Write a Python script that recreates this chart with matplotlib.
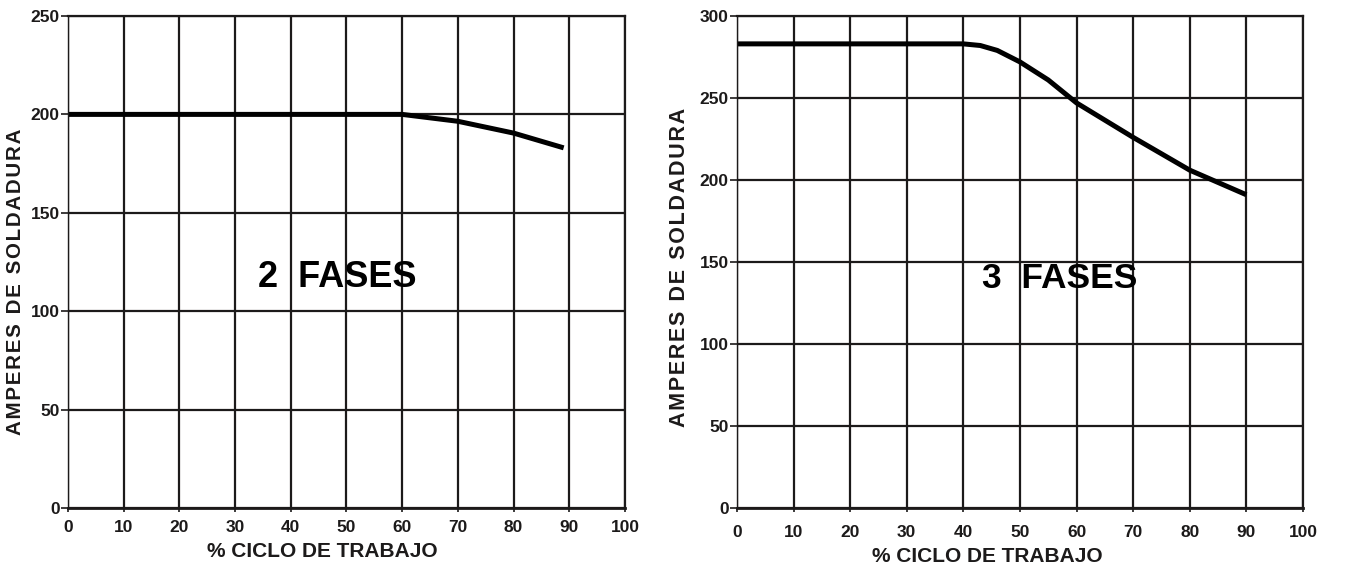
import matplotlib

matplotlib.use("Agg")
import matplotlib.pyplot as plt
import numpy as np

plt.rcParams["font.family"] = ["Liberation Sans", "DejaVu Sans"]
plt.rcParams["font.weight"] = "bold"

# * datos de las curvas de ciclo de trabajo
x_2f = [0, 10, 20, 30, 40, 50, 60, 70, 80, 89]
y_2f = [200, 200, 200, 200, 200, 200, 200, 196.5, 190.5, 183]

x_3f = [0, 10, 20, 30, 40, 43, 46, 50, 55, 60, 70, 80, 90]
y_3f = [283, 283, 283, 283, 283, 282, 279, 272, 261, 247, 226, 206, 191]

x_ticks = [0, 10, 20, 30, 40, 50, 60, 70, 80, 90, 100]
y_ticks_2f = [0, 50, 100, 150, 200, 250]
y_ticks_3f = [0, 50, 100, 150, 200, 250, 300]

ink = "#1c1a1a"
hair = "\u200a"


def spaced(text):
    # * letras separadas con espacio muy fino, palabras con espacio + fino
    return " \u2009".join(hair.join(word) for word in text.split(" "))


ylabel_txt = spaced("AMPERES DE SOLDADURA")

fig = plt.figure(figsize=(13.46, 5.65), dpi=100)
ax1 = fig.add_axes([0.0505, 0.1009, 0.4138, 0.8708])
ax2 = fig.add_axes([0.5475, 0.1009, 0.4205, 0.8708])


def style_axes(ax, y_ticks, ymax, xpad):
    ax.set_xlim(0, 100)
    ax.set_ylim(0, ymax)
    ax.set_xticks(x_ticks)
    ax.set_yticks(y_ticks)
    ax.grid(True, color=ink, linewidth=1.6)
    for side in ["top", "right"]:
        ax.spines[side].set_linewidth(1.6)
    ax.spines["left"].set_linewidth(1.0)
    ax.spines["bottom"].set_linewidth(2.0)
    for s in ax.spines.values():
        s.set_color(ink)
    ax.tick_params(axis="y", direction="out", length=5, width=1.2, colors=ink, labelsize=12.5, pad=1)
    ax.tick_params(axis="x", direction="out", length=3, width=1.2, colors=ink, labelsize=12.5, pad=xpad)
    for lbl in ax.get_xticklabels() + ax.get_yticklabels():
        lbl.set_fontweight("bold")


# * 2 fases
ax1.plot(x_2f, y_2f, color="black", linewidth=3.6, solid_capstyle="butt")
style_axes(ax1, y_ticks_2f, 250, 6)
ax1.set_xlabel("% CICLO DE TRABAJO", fontsize=15, fontweight="bold", color=ink)
ax1.xaxis.set_label_coords(0.456, -0.07)
ax1.set_ylabel(ylabel_txt, fontsize=14.8, fontweight="bold", color=ink)
ax1.yaxis.set_label_coords(-0.077, 0.46)
ax1.text(48.3, 117, "2  FASES", fontsize=26, fontweight="bold", ha="center", va="center", color="black")

# * 3 fases
ax2.plot(x_3f, y_3f, color="black", linewidth=3.6, solid_capstyle="butt")
style_axes(ax2, y_ticks_3f, 300, 9)
ax2.set_xlabel("% CICLO DE TRABAJO", fontsize=15, fontweight="bold", color=ink)
ax2.xaxis.set_label_coords(0.443, -0.08)
ax2.set_ylabel(ylabel_txt, fontsize=15.5, fontweight="bold", color=ink)
ax2.yaxis.set_label_coords(-0.083, 0.488)
ax2.text(57, 140, "3  FASES", fontsize=25.5, fontweight="bold", ha="center", va="center", color="black")

fig.savefig("out.png", dpi=100)
plt.close(fig)
